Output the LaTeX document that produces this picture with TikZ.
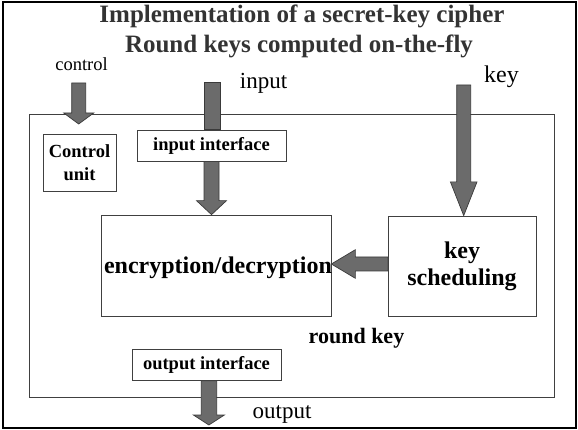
\documentclass[tikz,border=0pt]{standalone}
\usepackage{fontspec}
\setmainfont{Liberation Serif}
\usetikzlibrary{calc}
\definecolor{arrfill}{HTML}{6B6B6B}
\definecolor{arrline}{HTML}{3A3A3A}
\definecolor{boxline}{HTML}{404040}
\definecolor{titlecol}{HTML}{333333}
\newcommand\fatarr[5]{% #1 start, #2 end, #3 shaft half, #4 head half, #5 head length
  \coordinate (fh) at ($(#2)!#5!(#1)$);
  \path[fatarrow] ($(#1)!#3!90:(#2)$) -- ($(fh)!#3!90:(#2)$) -- ($(fh)!#4!90:(#2)$) -- (#2)
    -- ($(fh)!#4!-90:(#2)$) -- ($(fh)!#3!-90:(#2)$) -- ($(#1)!#3!-90:(#2)$) -- cycle;}
\begin{document}
\begin{tikzpicture}[x=1pt,y=-1pt,
  fatarrow/.style={fill=arrfill,draw=arrline,line width=0.7pt,line join=miter},
  blockbox/.style={draw=boxline,line width=0.7pt,fill=white,inner sep=0pt,align=center,
    font=\rmfamily\bfseries\fontsize{24}{26.5}\selectfont},
  ifbox/.style={draw=boxline,line width=0.7pt,fill=white,inner sep=0pt,
    font=\rmfamily\bfseries\fontsize{18.5}{23}\selectfont},
  lbl/.style={inner sep=0pt,anchor=base},
  plain/.style={lbl,font=\rmfamily\mdseries\fontsize{#1}{#1}\selectfont},
  titletxt/.style={lbl,text=titlecol,font=\rmfamily\bfseries\fontsize{25}{30}\selectfont}]
\useasboundingbox (0,0) rectangle (578,430);
\draw[black,line width=2pt] (2.5,2.5) rectangle (575.5,427.5);
% title
\node[titletxt] (t1) at (302,22.7) {Implementation of a secret-key cipher};
\node[titletxt] (t2) at (299,52.7) {Round keys computed on-the-fly};
% inner frame
\node[draw=boxline,line width=0.7pt,minimum width=524.8pt,minimum height=282.5pt,inner sep=0pt] (frame) at (291.9,255.75) {};
% labels
\node[plain=18.5] (lctrl) at (81.5,70.7) {control};
\node[plain=23] (lin) at (263.5,89) {input};
\node[plain=24] (lkey) at (501.5,82.7) {key};
\node[plain=23] (lout) at (282,418) {output};
\node[lbl,font=\rmfamily\bfseries\fontsize{22}{24}\selectfont] (lrk) at (356.5,343) {round key};
% coordinates for free ends
\coordinate (ctrlsrc) at (78.7,83);
\coordinate (ctrltip) at (78.7,124);
\coordinate (insrc) at (212.3,82);
\coordinate (keysrc) at (463.7,85);
\coordinate (outtip) at (208.9,425);
% box positions
\path node[blockbox,minimum width=73pt,minimum height=57pt] (ctrl) at (79.5,162.5) {};
\path node[ifbox,minimum width=149pt,minimum height=31pt] (inif) at (211.5,145.5) {};
\path node[blockbox,minimum width=230pt,minimum height=101pt] (enc) at (216,265.5) {};
\path node[blockbox,minimum width=148pt,minimum height=100.7pt] (ks) at (462,266.3) {};
\path node[ifbox,minimum width=149pt,minimum height=31.5pt] (outif) at (206.5,364.75) {};
% arrows (drawn behind boxes)
\fatarr{ctrlsrc}{ctrltip}{7pt}{15pt}{11pt}
\path[fatarrow] ($(insrc)+(-8.3,0)$) rectangle ($(insrc |- inif.north)+(8.3,0)$);
\fatarr{inif.south}{inif.south |- enc.north}{7.5pt}{15pt}{14pt}
\fatarr{keysrc}{keysrc |- ks.north}{7pt}{13.3pt}{33.7pt}
\coordinate (kssrc) at (ks.west |- 0,264);
\fatarr{kssrc}{enc.east |- kssrc}{7pt}{14.3pt}{24pt}
\path[fatarrow] ($(enc.south)+(-14.3,0)$) rectangle ($(enc.south -| outif.north)+(12.5,0)$);
\fatarr{outif.south -| outtip}{outtip}{7.8pt}{15.5pt}{10pt}
% boxes on top
\node[blockbox,minimum width=73pt,minimum height=57pt,font=\rmfamily\bfseries\fontsize{18.5}{23}\selectfont] at (ctrl) {Control\\unit};
\node[ifbox,minimum width=149pt,minimum height=31pt] at (inif) {input interface};
\node[blockbox,minimum width=230pt,minimum height=101pt] at (enc) {};
\node[lbl,font=\rmfamily\bfseries\fontsize{24}{26}\selectfont] (enctxt) at (218,273) {encryption/decryption};
\node[blockbox,minimum width=148pt,minimum height=100.7pt] at (ks) {key\\scheduling};
\node[ifbox,minimum width=149pt,minimum height=31.5pt] at (outif) {output interface};
\end{tikzpicture}
\end{document}
